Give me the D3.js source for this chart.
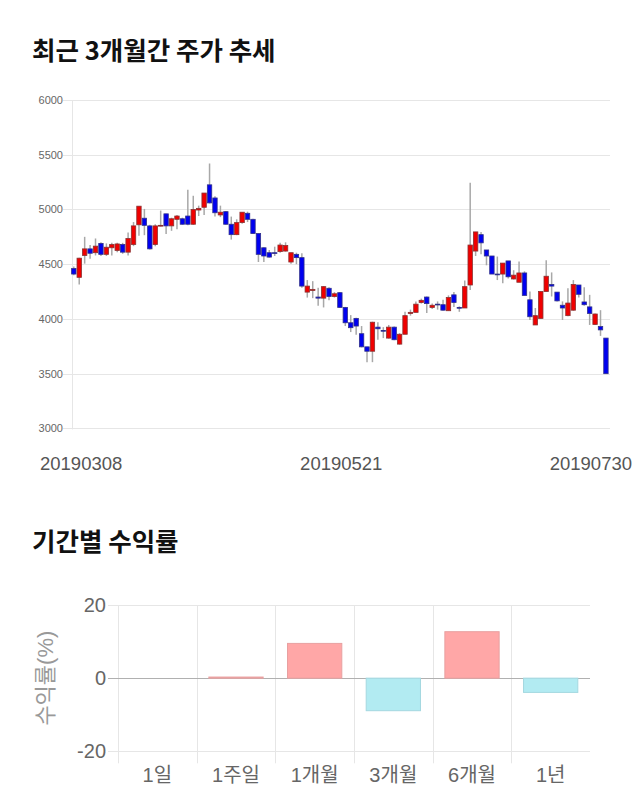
<!DOCTYPE html>
<html><head><meta charset="utf-8">
<script src="https://cdn.jsdelivr.net/npm/d3@7"></script>
<style>html,body{margin:0;padding:0;background:#fff}svg{display:block}</style>
</head><body>
<svg id="c" width="640" height="810"></svg>
<script>
const dates = ["20190308","20190311","20190312","20190313","20190314","20190315","20190318","20190319","20190320","20190321","20190322","20190325","20190326","20190327","20190328","20190329",
"20190401","20190402","20190403","20190404","20190405","20190408","20190409","20190410","20190411","20190412","20190415","20190416","20190417","20190418","20190419","20190422","20190423","20190424","20190425","20190426","20190429","20190430",
"20190503","20190507","20190508","20190509","20190510","20190513","20190514","20190515","20190516","20190517","20190520","20190521","20190522","20190523","20190524","20190527","20190528","20190529","20190530","20190531",
"20190603","20190604","20190605","20190607","20190610","20190611","20190612","20190613","20190614","20190617","20190618","20190619","20190620","20190621","20190624","20190625","20190626","20190627","20190628",
"20190701","20190702","20190703","20190704","20190705","20190708","20190709","20190710","20190711","20190712","20190715","20190716","20190717","20190718","20190719","20190722","20190723","20190724","20190725","20190726","20190729","20190730"];
const openP  = [4460,4380,4580,4640,4605,4690,4590,4650,4625,4680,4610,4680,4860,4920,4850,4680,4850,4960,4850,4910,4915,4940,4865,4995,5020,5225,5105,4950,4980,4865,4770,4880,4965,4910,4780,4650,4605,4605,4615,4620,4520,4590,4560,4245,4260,4200,4190,4280,4205,4240,4105,3965,4005,3865,3745,3705,3925,3895,3825,3925,3770,3860,4050,4060,4150,4200,4105,4135,4130,4075,4220,4105,4100,4310,4620,4770,4630,4575,4410,4410,4530,4365,4335,4420,4175,3945,4005,4250,4315,4245,4125,4030,4080,4310,4155,4110,3950,3930,3825];
const highP  = [4480,4560,4750,4675,4735,4700,4690,4695,4695,4695,4790,4885,5030,5005,4860,4865,4990,4960,4925,4950,4925,5180,5125,5035,5150,5420,5120,5035,4985,4935,4910,4975,4980,4915,4780,4655,4630,4660,4695,4700,4605,4605,4600,4355,4345,4285,4300,4290,4245,4245,4110,4035,4010,3935,3745,3975,3970,3925,3945,3930,3870,4065,4085,4160,4185,4205,4140,4160,4175,4215,4245,4115,4350,5245,4795,4795,4630,4575,4570,4510,4530,4445,4525,4435,4250,4100,4255,4535,4425,4245,4160,4280,4355,4310,4290,4220,4050,4080,3825];
const lowP   = [4400,4315,4505,4550,4580,4575,4575,4580,4610,4595,4580,4665,4760,4765,4635,4665,4845,4775,4805,4820,4860,4855,4860,4940,4950,5055,4935,4930,4860,4725,4765,4870,4885,4775,4520,4520,4560,4575,4605,4615,4505,4500,4285,4195,4190,4120,4105,4170,4195,4100,3935,3880,3855,3740,3605,3605,3810,3825,3820,3805,3765,3860,4030,4060,4140,4055,4090,4085,4075,4075,4110,4065,4100,4265,4575,4590,4490,4410,4355,4325,4370,4360,4335,4215,3990,3945,4005,4250,4205,4160,3990,4025,4075,4195,4120,3945,3945,3845,3500];
const closeP = [4410,4555,4640,4600,4665,4590,4655,4680,4685,4610,4735,4850,5030,4855,4640,4850,4855,4850,4915,4940,4865,4865,5000,5010,5150,5060,4970,4975,4865,4770,4880,4975,4910,4780,4590,4575,4565,4600,4675,4670,4605,4560,4300,4300,4270,4190,4295,4205,4230,4105,3965,3920,3935,3745,3705,3970,3910,3890,3925,3810,3860,4030,4060,4135,4170,4140,4125,4130,4080,4195,4150,4100,4295,4675,4795,4695,4575,4410,4405,4510,4385,4400,4420,4215,4020,4030,4250,4390,4300,4165,4100,4145,4315,4225,4130,4050,4045,3900,3500];
const priceTicks = [3000,3500,4000,4500,5000,5500,6000];
const dateLabels = [dates[0], dates[49], dates[98]];

const periods = ["1일","1주일","1개월","3개월","6개월","1년"];
const returns = [0, 0.3, 9.5, -8.9, 12.7, -3.9];
const returnTicks = [-20, 0, 20];

const svg = d3.select("#c");
const KR = "'Noto Sans CJK KR','Noto Sans',sans-serif";
const AR = "'Liberation Sans',Arial,'Noto Sans CJK KR',sans-serif";

// Titles
svg.append("text").attr("x",32).attr("y",60).attr("font-family",KR).attr("font-weight","bold")
  .attr("font-size",25.5).attr("fill","#111").text("최근 3개월간 주가 추세");
svg.append("text").attr("x",32).attr("y",551).attr("font-family",KR).attr("font-weight","bold")
  .attr("font-size",25.5).attr("fill","#111").text("기간별 수익률");

// ---------- Candlestick chart ----------
const L = 72.5, R = 610, T = 100, B = 428.4;
const y = d3.scaleLinear().domain([3000,6000]).range([B,T]);
const step = 5.43;
const x = d3.scaleBand().domain(dates).range([73.8-step/2, 73.8-step/2+step*dates.length]).padding(0);
const g = svg.append("g");
g.selectAll("line.grid").data(priceTicks).join("line").attr("class","grid")
  .attr("x1",63).attr("x2",R).attr("y1",d=>Math.round(y(d))+0.5).attr("y2",d=>Math.round(y(d))+0.5)
  .attr("stroke","#e6e6e6").attr("stroke-width",1);
g.append("line").attr("x1",L).attr("x2",L).attr("y1",T).attr("y2",B+1).attr("stroke","#e6e6e6");
g.selectAll("text.yt").data(priceTicks).join("text").attr("class","yt")
  .attr("x",63).attr("y",d=>y(d)+4).attr("text-anchor","end").attr("font-family",AR)
  .attr("font-size",11).attr("fill","#666").text(d=>d);

const cg = svg.append("g");
const idx = d3.range(dates.length);
const cx = i => x(dates[i]) + x.bandwidth()/2;
cg.selectAll("line.wick").data(idx).join("line").attr("class","wick")
  .attr("x1",i=>cx(i)).attr("x2",i=>cx(i)).attr("y1",i=>y(highP[i])).attr("y2",i=>y(lowP[i]))
  .attr("stroke","#a8a8a8").attr("stroke-width",1.5);
const bw = 4.4;
cg.selectAll("rect.body").data(idx).join("rect").attr("class","body")
  .attr("x",i=>cx(i)-bw/2).attr("width",bw)
  .attr("y",i=>y(Math.max(openP[i],closeP[i])))
  .attr("height",i=>Math.max(0.8, Math.abs(y(openP[i])-y(closeP[i]))))
  .attr("fill",i=>closeP[i]>openP[i] ? "#f00000" : "#0000f0")
  .attr("stroke",i=>closeP[i]>openP[i] ? "#8a3030" : "#30308a").attr("stroke-width",0.8);

// date labels
svg.append("text").attr("x",40).attr("y",470).attr("font-family",AR).attr("font-size",18.5)
  .attr("fill","#555").attr("text-anchor","start").text(dateLabels[0]);
svg.append("text").attr("x",(L+R)/2).attr("y",470).attr("font-family",AR).attr("font-size",18.5)
  .attr("fill","#555").attr("text-anchor","middle").text(dateLabels[1]);
svg.append("text").attr("x",632).attr("y",470).attr("font-family",AR).attr("font-size",18.5)
  .attr("fill","#555").attr("text-anchor","end").text(dateLabels[2]);

// ---------- Returns bar chart ----------
const bL = 118, bR = 590;
const yb = d3.scaleLinear().domain([-20,20]).range([751.3,605]);
const xb = d3.scaleBand().domain(periods).range([bL,bR]).padding(0);
const bg = svg.append("g");
bg.selectAll("line.vg").data(periods).join("line").attr("class","vg")
  .attr("x1",d=>Math.round(xb(d))+0.5).attr("x2",d=>Math.round(xb(d))+0.5)
  .attr("y1",yb(20)).attr("y2",yb(-20)+12).attr("stroke","#e6e6e6");
bg.selectAll("line.hg").data(returnTicks).join("line").attr("class","hg")
  .attr("x1",bL-10).attr("x2",bR).attr("y1",d=>Math.round(yb(d))+0.5).attr("y2",d=>Math.round(yb(d))+0.5)
  .attr("stroke",d=>d===0?"#b0b0b0":"#e6e6e6");
bg.selectAll("text.yt").data(returnTicks).join("text").attr("class","yt")
  .attr("x",bL-12).attr("y",d=>yb(d)+7).attr("text-anchor","end").attr("font-family",AR)
  .attr("font-size",20).attr("fill","#666").text(d=>d);
const barW = xb.bandwidth()*0.69;
bg.selectAll("rect.bar").data(periods).join("rect").attr("class","bar")
  .attr("x",(d)=>xb(d)+xb.bandwidth()/2-barW/2).attr("width",barW)
  .attr("y",(d,i)=>yb(Math.max(0,returns[i])))
  .attr("height",(d,i)=>Math.abs(yb(returns[i])-yb(0)))
  .attr("fill",(d,i)=>returns[i]>=0?"#ffa7a7":"#b2ebf2")
  .attr("stroke",(d,i)=>returns[i]>=0?"#e8a0a0":"#a4d8e0").attr("stroke-width",1);
bg.selectAll("text.xt").data(periods).join("text").attr("class","xt")
  .attr("x",d=>xb(d)+xb.bandwidth()/2).attr("y",782).attr("text-anchor","middle")
  .attr("font-family",AR).attr("font-size",20).attr("fill","#666").text(d=>d);
svg.append("text").attr("transform",`translate(53,${yb(0)}) rotate(-90)`).attr("text-anchor","middle")
  .attr("font-family",AR).attr("font-size",22).attr("fill","#999").text("수익률(%)");
</script>
</body></html>
